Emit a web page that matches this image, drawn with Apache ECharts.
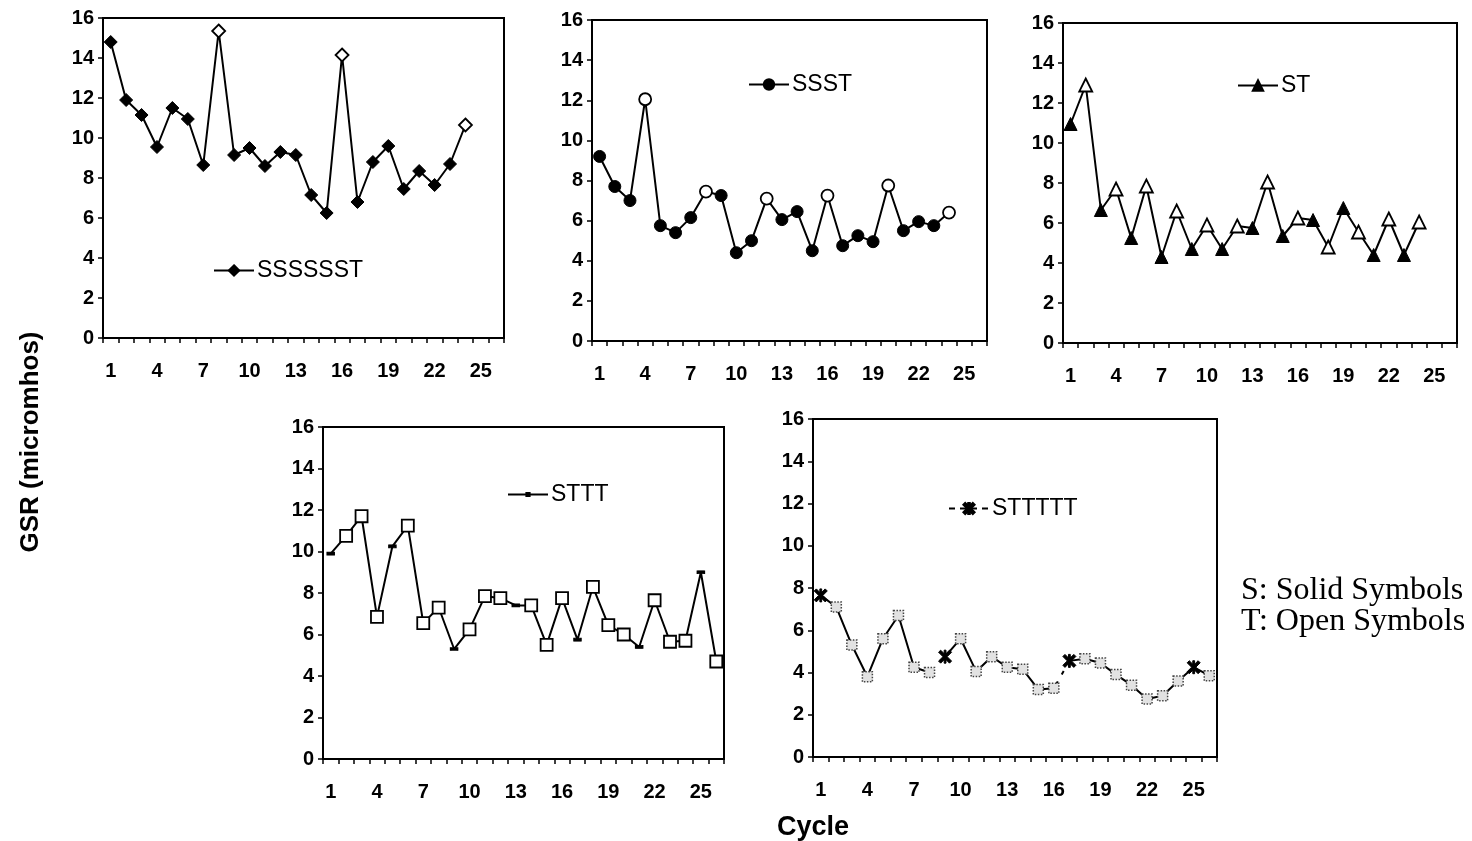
<!DOCTYPE html>
<html>
<head>
<meta charset="utf-8">
<script src="https://cdn.jsdelivr.net/npm/echarts@6/dist/echarts.min.js"></script>
<style>
html,body{margin:0;padding:0;background:#fff;}
#chart{width:1472px;height:841px;}
</style>
</head>
<body>
<div id="chart"></div>
<script>
// ---- data ----
const cycles = ['1','2','3','4','5','6','7','8','9','10','11','12','13','14','15','16','17','18','19','20','21','22','23','24','25','26'];
const yTicks = [0, 2, 4, 6, 8, 10, 12, 14, 16];

const namesLegend = ['SSSSSST', 'SSST', 'ST', 'STTT', 'STTTTT'];
const symbolPatterns = ['SSSSSSST', 'SSST', 'ST', 'STTT', 'STTTTTTT'];

const gsrSSSSSSST = [14.8, 11.9, 11.15, 9.55, 11.5, 10.95, 8.65, 15.35, 9.15, 9.5, 8.6, 9.3, 9.15, 7.15, 6.25, 14.15, 6.8, 8.8, 9.6, 7.45, 8.35, 7.65, 8.7, 10.65];
const gsrSSST = [9.2, 7.7, 7.0, 12.05, 5.75, 5.4, 6.15, 7.45, 7.25, 4.4, 5.0, 7.1, 6.05, 6.45, 4.5, 7.25, 4.75, 5.25, 4.95, 7.75, 5.5, 5.95, 5.75, 6.4];
const gsrST = [10.95, 12.9, 6.65, 7.7, 5.25, 7.85, 4.3, 6.6, 4.7, 5.9, 4.7, 5.85, 5.75, 8.05, 5.35, 6.25, 6.15, 4.8, 6.75, 5.55, 4.4, 6.2, 4.4, 6.05];
const gsrSTTT = [9.9, 10.75, 11.7, 6.85, 10.25, 11.25, 6.55, 7.3, 5.3, 6.25, 7.85, 7.75, 7.4, 7.4, 5.5, 7.75, 5.75, 8.3, 6.45, 6.0, 5.4, 7.65, 5.65, 5.7, 9.0, 4.7];
const gsrSTTTTTTT = [7.65, 7.1, 5.3, 3.8, 5.6, 6.7, 4.25, 4.0, 4.75, 5.6, 4.05, 4.75, 4.25, 4.15, 3.2, 3.25, 4.55, 4.65, 4.45, 3.9, 3.4, 2.75, 2.9, 3.6, 4.25, 3.85];

const yTitle = 'GSR (micromhos)';
const xTitle = 'Cycle';
const noteLines = ['S: Solid Symbols', 'T: Open Symbols'];

// ---- layout ----
const FONT = 'Liberation Sans, Arial, sans-serif';
const grids = [
  {left: 103, top: 18, width: 401, height: 320},
  {left: 592, top: 20, width: 395, height: 321},
  {left: 1063, top: 23, width: 394, height: 320},
  {left: 323, top: 427, width: 401, height: 332},
  {left: 813, top: 419, width: 404, height: 338}
];
const legendPos = [
  {left: 213, top: 259, h: 13},
  {left: 748, top: 73, h: 13},
  {left: 1237, top: 74, h: 13},
  {left: 507, top: 483, h: 4},
  {left: 948, top: 497, h: 14}
];

const asterisk = 'path://M0,1.6 L1.6,0 L5,3.4 L8.4,0 L10,1.6 L6.6,5 L10,8.4 L8.4,10 L5,6.6 L1.6,10 L0,8.4 L3.4,5 Z M4.3,0 L5.7,0 L5.7,10 L4.3,10 Z';

const symbolCfg = [
  {S: {symbol: 'diamond', size: 13}, T: {symbol: 'diamond', size: 13, fill: '#fff'}},
  {S: {symbol: 'circle', size: 12}, T: {symbol: 'circle', size: 12, fill: '#fff'}},
  {S: {symbol: 'triangle', size: 13}, T: {symbol: 'triangle', size: 13, fill: '#fff'}},
  {S: {symbol: 'rect', size: [7, 3]}, T: {symbol: 'rect', size: 12, fill: '#fff'}},
  {S: {symbol: asterisk, size: 13}, T: {symbol: 'rect', size: 10, fill: '#e2e2e2', border: '#444', dotted: true}}
];

const allData = [gsrSSSSSSST, gsrSSST, gsrST, gsrSTTT, gsrSTTTTTTT];

function kindAt(pattern, i) { return pattern[i % pattern.length]; }

function buildData(p, vals, range) {
  const pat = symbolPatterns[p];
  const cfg = symbolCfg[p];
  return vals.map((v, i) => {
    if (range && (i < range[0] || i > range[1])) return '-';
    const k = kindAt(pat, i);
    if (k === 'S') return v;
    const t = cfg.T;
    return {
      value: v,
      symbol: t.symbol,
      symbolSize: t.size,
      itemStyle: {
        color: t.fill,
        borderColor: t.border || '#000',
        borderWidth: t.dotted ? 1.5 : 1.8,
        borderType: t.dotted ? 'dotted' : 'solid'
      }
    };
  });
}

const xAxes = [], yAxes = [], series = [], legends = [];
grids.forEach((g, p) => {
  xAxes.push({
    type: 'category', gridIndex: p, data: cycles, boundaryGap: true,
    axisLine: {lineStyle: {color: '#000', width: 2}},
    axisTick: {show: true, interval: 0, alignWithLabel: false, length: 5, inside: false, lineStyle: {color: '#000', width: 1.5}},
    axisLabel: {interval: 2, margin: 23, color: '#000', fontFamily: FONT, fontWeight: 'bold', fontSize: 20},
    splitLine: {show: false}
  });
  yAxes.push({
    type: 'value', gridIndex: p, min: yTicks[0], max: yTicks[yTicks.length - 1], interval: yTicks[1] - yTicks[0],
    axisLine: {show: true, lineStyle: {color: '#000', width: 2}},
    axisTick: {show: true, length: 5, lineStyle: {color: '#000', width: 1.5}},
    axisLabel: {margin: 9, color: '#000', fontFamily: FONT, fontWeight: 'bold', fontSize: 20},
    splitLine: {show: false}
  });
  const S = symbolCfg[p].S;
  const base = {
    type: 'line', xAxisIndex: p, yAxisIndex: p, name: namesLegend[p],
    symbol: S.symbol, symbolSize: S.size, showAllSymbol: true,
    lineStyle: {color: '#000', width: 2},
    itemStyle: {color: '#000', borderColor: '#000', borderWidth: 1},
    emphasis: {disabled: true}, animation: false, z: 3
  };
  if (p < 4) {
    series.push(Object.assign({}, base, {data: buildData(p, allData[p])}));
  } else {
    const vals = allData[p];
    [[0, 7], [8, 15], [16, vals.length - 1]].forEach(r => {
      series.push(Object.assign({}, base, {data: buildData(p, vals, r)}));
    });
    series.push({
      type: 'line', xAxisIndex: p, yAxisIndex: p, name: 'seg',
      showSymbol: false, symbol: 'none',
      lineStyle: {color: '#000', width: 2, type: [4, 8], dashOffset: -4},
      data: vals.map((v, i) => (i === 15 || i === 16) ? v : '-'),
      animation: false, z: 2, emphasis: {disabled: true}
    });
  }
  const legendItem = {name: namesLegend[p]};
  if (p === 4) legendItem.lineStyle = {type: [6, 5]};
  legends.push({
    show: true, left: legendPos[p].left, top: legendPos[p].top, padding: 0,
    itemWidth: 40, itemHeight: legendPos[p].h, itemGap: 4, selectedMode: false,
    data: [legendItem],
    textStyle: {color: '#000', fontFamily: FONT, fontSize: 23, padding: [0, 0, 0, -2]}
  });
});

const chart = echarts.init(document.getElementById('chart'), null, {renderer: 'canvas'});
chart.setOption({
  backgroundColor: '#fff',
  animation: false,
  grid: grids.map(g => Object.assign({show: true, borderColor: '#000', borderWidth: 2, backgroundColor: 'transparent', containLabel: false}, g)),
  xAxis: xAxes,
  yAxis: yAxes,
  legend: legends,
  series: series,
  graphic: [
    {type: 'text', x: 31, y: 442, rotation: Math.PI / 2, style: {text: yTitle, fill: '#000', font: 'bold 26px ' + FONT, textAlign: 'center', textVerticalAlign: 'middle'}},
    {type: 'text', x: 813, y: 828, style: {text: xTitle, fill: '#000', font: 'bold 27px ' + FONT, textAlign: 'center', textVerticalAlign: 'middle'}},
    {type: 'text', x: 1241, y: 591, style: {text: noteLines[0], fill: '#000', font: '32px Liberation Serif, Times New Roman, serif', textAlign: 'left', textVerticalAlign: 'middle'}},
    {type: 'text', x: 1241, y: 622, style: {text: noteLines[1], fill: '#000', font: '32px Liberation Serif, Times New Roman, serif', textAlign: 'left', textVerticalAlign: 'middle'}}
  ]
});
</script>
</body>
</html>
